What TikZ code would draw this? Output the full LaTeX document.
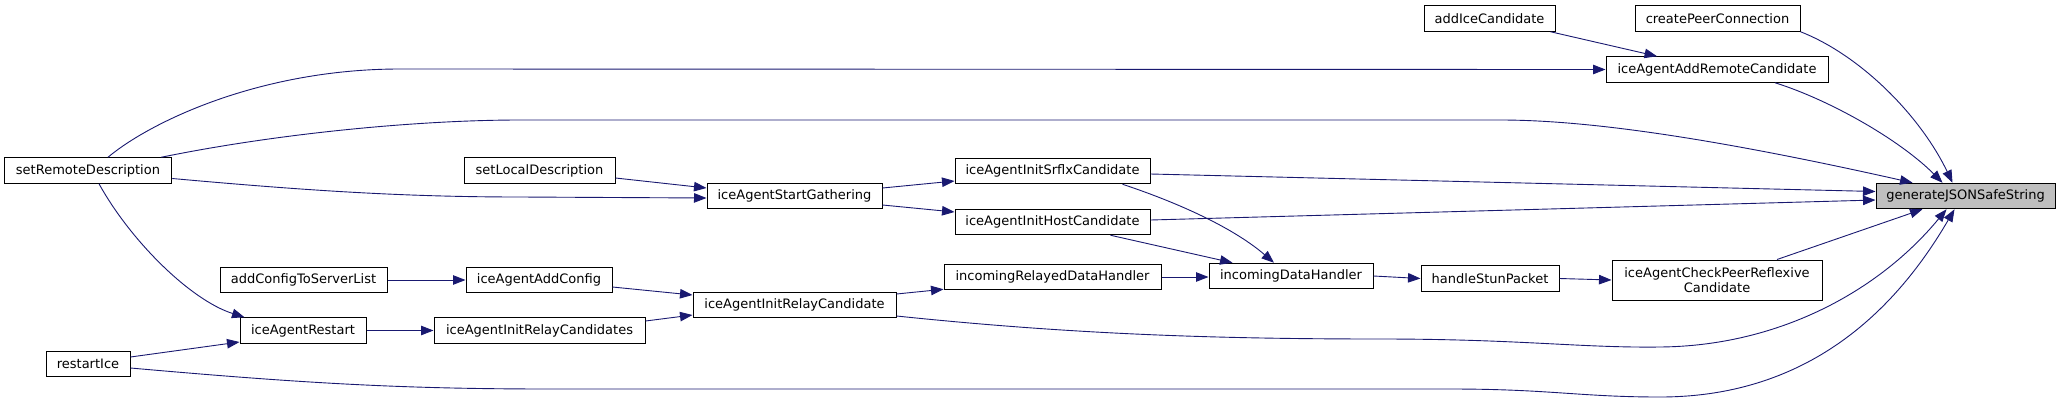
\documentclass[tikz,border=0pt]{standalone}
\usepackage{fontspec}
\newfontfamily\dvs{DejaVu Sans}
\usetikzlibrary{arrows.meta,calc}
\definecolor{edgeblue}{RGB}{25,25,112}
\definecolor{focusgray}{RGB}{191,191,191}
\tikzset{
  fn/.style={draw=black, line width=1pt, fill=white, inner sep=0pt, minimum height=25.5pt,
    font=\dvs\fontsize{13}{15.5}\selectfont, text=black, align=center},
  call/.style={draw=edgeblue, line width=0.9pt, -{Triangle[length=12.5pt,width=9.5pt]}, fill=none},
}
\begin{document}
\begin{tikzpicture}[x=1pt,y=-1pt]
\useasboundingbox (0,0) rectangle (2060,402);
% nodes
\node[fn, fill=focusgray, minimum width=179pt] (gen) at (1965.5,196) {generateJSONSafeString};
\node[fn, minimum width=165pt] (cpc) at (1717.5,18.5) {createPeerConnection};
\node[fn, minimum width=131pt] (aic) at (1489.5,18.5) {addIceCandidate};
\node[fn, minimum width=222pt] (aarc) at (1717,69.5) {iceAgentAddRemoteCandidate};
\node[fn, minimum width=167.5pt] (srd) at (88,170.5) {setRemoteDescription};
\node[fn, minimum width=151pt] (sld) at (539.5,170.5) {setLocalDescription};
\node[fn, minimum width=175pt] (sg) at (794.5,196) {iceAgentStartGathering};
\node[fn, minimum width=195pt] (srflx) at (1052.5,171) {iceAgentInitSrflxCandidate};
\node[fn, minimum width=195pt] (host) at (1052.5,222) {iceAgentInitHostCandidate};
\node[fn, minimum width=167pt] (acsl) at (303.5,280) {addConfigToServerList};
\node[fn, minimum width=146pt] (aac) at (539,280) {iceAgentAddConfig};
\node[fn, minimum width=217pt] (rdh) at (1052.5,277) {incomingRelayedDataHandler};
\node[fn, minimum width=164pt] (idh) at (1291,276) {incomingDataHandler};
\node[fn, minimum width=138pt] (hsp) at (1490,278.5) {handleStunPacket};
\node[fn, minimum width=210pt, minimum height=40pt] (cprc) at (1717,280) {iceAgentCheckPeerReflexive\\[-1pt]Candidate};
\node[fn, minimum width=203pt] (irc) at (794.5,305) {iceAgentInitRelayCandidate};
\node[fn, minimum width=126pt] (rst) at (303,330.5) {iceAgentRestart};
\node[fn, minimum width=211pt] (ircs) at (539.5,330.5) {iceAgentInitRelayCandidates};
\node[fn, minimum width=84pt] (ri) at (88,364) {restartIce};
% edges
\draw[call] ($(aic.south east)+(-5,0)$) -- ($(aarc.north)+(-60,0)$);
\draw[call] (cpc.south east) .. controls (1860,55) and (1920,115) .. ($(gen.north west)+(77,0)$);
\draw[call] ($(srd.north)+(20,0)$) .. controls (150,122) and (260,69) .. (400,69) -- (aarc.west);
\draw[call] ($(aarc.south)+(58,0)$) .. controls (1830,100) and (1900,140) .. ($(gen.north west)+(67,0)$);
\draw[call] ($(srd.north east)+(-11,0)$) .. controls (280,133) and (420,120) .. (520,120) -- (1500,120) .. controls (1580,120) and (1700,135) .. ($(gen.north west)+(37,0)$);
\draw[call] ($(srd.east)+(0,8)$) .. controls (300,190) and (400,197) .. (520,197) -- ($(sg.west)+(0,2)$);
\draw[call] ($(sld.east)+(0,7.5)$) -- ($(sg.west)+(0,-8)$);
\draw[call] ($(sg.east)+(0,-8)$) -- ($(srflx.west)+(0,10)$);
\draw[call] ($(sg.east)+(0,9)$) -- ($(host.west)+(0,-10)$);
\draw[call] ($(srflx.east)+(0,3)$) -- ($(gen.west)+(0,-4.5)$);
\draw[call] ($(host.east)+(0,-2)$) -- ($(gen.west)+(0,4)$);
\draw[call] ($(srflx.south)+(70,0)$) .. controls (1170,200) and (1230,225) .. ($(idh.north)+(-17,0)$);
\draw[call] ($(host.south)+(58,0)$) -- ($(idh.north west)+(24,0)$);
\draw[call] (rdh.east) -- (rdh.east -| idh.west);
\draw[call] (idh.east) -- (hsp.west);
\draw[call] (hsp.east) -- (cprc.west);
\draw[call] ($(cprc.north)+(60,0)$) -- ($(gen.south west)+(47,0)$);
\draw[call] ($(irc.east)+(0,-11)$) -- ($(rdh.south west)+(0,-1)$);
\draw[call] ($(irc.east)+(0,11)$) .. controls (1060,333) and (1200,339) .. (1380,339) .. controls (1520,339) and (1580,348) .. (1660,347) .. controls (1780,346) and (1880,290) .. ($(gen.south west)+(71,0)$);
\draw[call] (acsl.east) -- (aac.west);
\draw[call] ($(aac.east)+(0,7)$) -- ($(irc.west)+(0,-10)$);
\draw[call] ($(ircs.east)+(0,-9.5)$) -- ($(irc.west)+(0,10)$);
\draw[call] (rst.east) -- (ircs.west);
\draw[call] ($(srd.south)+(11,0)$) .. controls (130,240) and (190,300) .. ($(rst.north west)+(5,0)$);
\draw[call] ($(ri.east)+(0,-7)$) -- ($(rst.west)+(0,11.5)$);
\draw[call] ($(ri.east)+(0,4)$) .. controls (300,383) and (400,389) .. (550,389) -- (1450,389) .. controls (1550,389) and (1580,397) .. (1660,397) .. controls (1800,397) and (1890,320) .. ($(gen.south west)+(79,0)$);
\end{tikzpicture}
\end{document}
